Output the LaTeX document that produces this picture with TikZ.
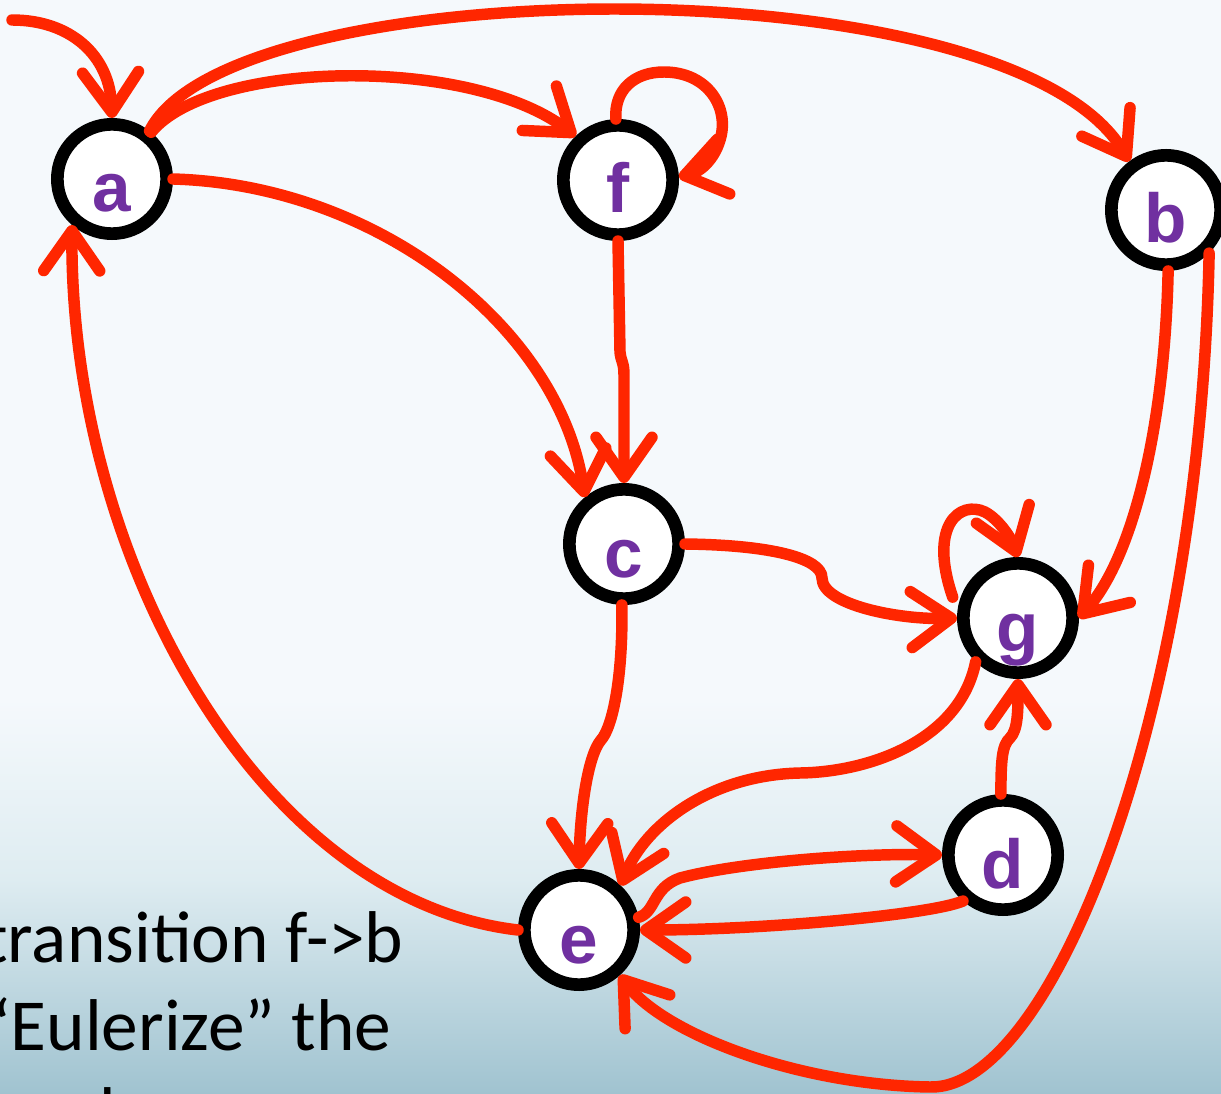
\documentclass[tikz,border=0pt]{standalone}
\usepackage{fontspec}
\setmainfont{Carlito}
\newfontfamily\lblfont{Liberation Sans}
\usetikzlibrary{arrows.meta}
\definecolor{edgered}{RGB}{255,38,0}
\definecolor{lblpurple}{RGB}{112,48,160}
\definecolor{bgtop}{RGB}{245,249,252}
\definecolor{bgmid}{RGB}{222,236,241}
\definecolor{bgbot}{RGB}{160,195,208}
\begin{document}
\begin{tikzpicture}[x=0.75pt,y=-0.75pt,
  state/.style={circle, draw=black, line width=9.5pt, fill=white,
    minimum size=82pt, inner sep=0pt, text height=49.5pt, text depth=0pt,
    font=\lblfont\bfseries\fontsize{52}{52}\selectfont, text=lblpurple},
  edge/.style={draw=edgered, line width=8.6pt, line cap=round, line join=round,
    -{Straight Barb[length=30pt,width=42pt,round]}},
  txt/.style={anchor=base west, inner sep=0pt, font=\fontsize{55}{64}\selectfont}]

% slide background
\useasboundingbox (0,0) rectangle (1221,1094);
\clip (0,0) rectangle (1221,1094);
\fill[bgtop] (0,0) rectangle (1221,700);
\shade[top color=bgtop, bottom color=bgmid] (0,699) rectangle (1221,880);
\shade[top color=bgmid, bottom color=bgbot] (0,879) rectangle (1221,1094);

% slide text
\node[txt] (t1) at (-17,962) {transition f->b};
\node[txt] (t2) at (-20,1050) {“Eulerize” the};
\node[txt] (t3) at (-33,1138) {graph};

% states
\node[state] (a) at (112,179) {a};
\node[state] (f) at (618,180) {f};
\node[state] (b) at (1166,210) {b};
\node[state] (c) at (624,544) {c};
\node[state] (g) at (1018,618) {g};
\node[state] (d) at (1003,855) {d};
\node[state] (e) at (579,930) {e};

% start marker
\coordinate (s0) at (12,20);
\draw[edge] (s0) .. controls (70,20) and (110,55) .. (a.90);

% transitions
\draw[edge] (a.52) .. controls (230,-30) and (1010,-40) .. (b.127);
\draw[edge] (a.50) .. controls (210,60) and (470,55) .. (f.134);
\draw[edge] (a.0) .. controls (380,185) and (560,330) .. (c.130);
\draw[edge] (f.92) .. controls (614,90) and (634,72) .. (664,72)
  .. controls (708,72) and (730,108) .. (720,140)
  .. controls (714,160) and (700,172) .. (f.3);
\draw[edge] (f.-90) -- (620,352) .. controls (621,362) and (624,362) .. (624,375) -- (c.90);
\draw[edge] (c.0) .. controls (770,545) and (822,558) .. (822,578)
  .. controls (822,605) and (900,620) .. (g.180);
\draw[edge] ([xshift=-6pt]g.160) .. controls (928,525) and (960,500) .. (985,512)
  .. controls (1000,520) and (1012,540) .. (g.90);
\draw[edge] (b.-88) .. controls (1165,420) and (1135,555) .. (g.0);
\draw[edge] (b.-45) .. controls (1200,720) and (1050,1090) .. (930,1087)
  .. controls (800,1085) and (665,1035) .. (e.-48);
\draw[edge] (c.-92) .. controls (623,680) and (612,728) .. (601,740)
  .. controls (588,755) and (580,810) .. (e.90);
\draw[edge] (g.-134) .. controls (960,740) and (870,772) .. (800,773)
  .. controls (710,775) and (645,825) .. (e.47);
\draw[edge] (e.12) .. controls (656,912) and (652,888) .. (680,878)
  .. controls (740,862) and (860,853) .. (d.180);
\draw[edge] (d.-131) .. controls (930,915) and (760,930) .. (e.0);
\draw[edge] (e.180) .. controls (260,900) and (70,560) .. (a.-131);
\draw[edge] (d.92) .. controls (1001,760) and (1002,745) .. (1010,738)
  .. controls (1018,730) and (1018,710) .. (g.-90);
\end{tikzpicture}
\end{document}
